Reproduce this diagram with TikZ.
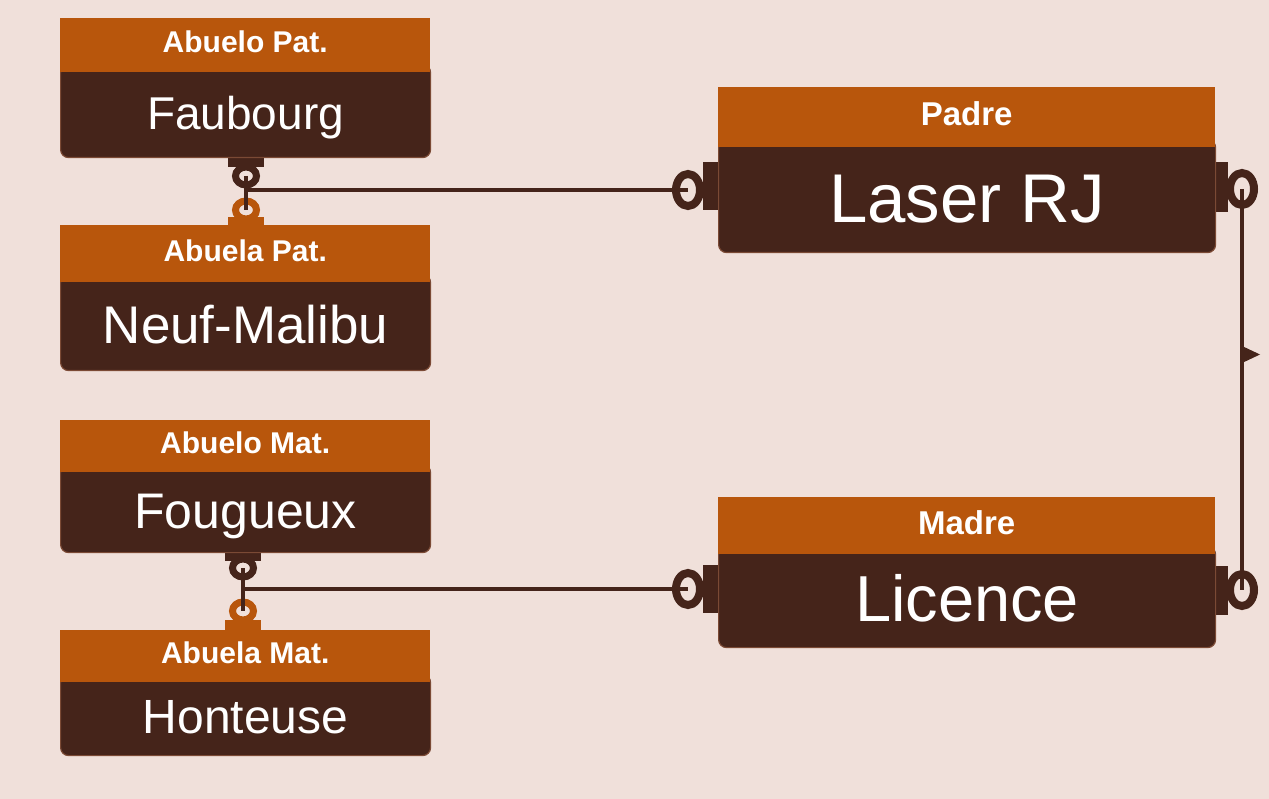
\documentclass[tikz,border=0pt]{standalone}
\usepackage{fontspec}
\setmainfont{Liberation Sans}
\definecolor{bg}{HTML}{F0E0DA}
\definecolor{hdr}{HTML}{B8560C}
\definecolor{bdy}{HTML}{45241A}
\definecolor{edge}{HTML}{7B4A35}
\tikzset{
 hdrbox/.style={fill=hdr, inner sep=0pt, anchor=north west, text=white, font=\bfseries\fontsize{30}{32}\selectfont, text height=21.5pt, text depth=6pt},
 bighdr/.style={hdrbox, font=\bfseries\fontsize{33}{36}\selectfont, text height=23.6pt, text depth=7pt},
 bdybox/.style={fill=bdy, draw=edge, line width=1.2pt, rounded corners=8pt, inner sep=0pt, anchor=north west, text=white, text depth=0pt},
 tabbox/.style={fill=bdy},
 otabbox/.style={fill=hdr},
 ring/.style={draw=bdy, line width=7pt},
 oring/.style={draw=hdr, line width=7pt},
 bigring/.style={draw=bdy, line width=8pt},
 link/.style={draw=bdy, line width=3.8pt},
}
\begin{document}
\begin{tikzpicture}[x=1pt,y=-1pt]
\useasboundingbox (0,0) rectangle (1269,799);
\fill[bg] (0,0) rectangle (1269,799);

% ring centres
\coordinate (apRing) at (246,176);
\coordinate (abRing) at (246,210);
\coordinate (pJ) at (246,190);
\coordinate (plRing) at (688,190);
\coordinate (prRing) at (1242,189);
\coordinate (mlRing) at (688,589);
\coordinate (mrRing) at (1242,590);
\coordinate (amRing) at (243,568);
\coordinate (aaRing) at (243,611);
\coordinate (mJ) at (243,589);

% tabs
\fill[tabbox] (228,150) rectangle (264,167);
\fill[otabbox] (228,217) rectangle (264,230);
\fill[tabbox] (225,545) rectangle (261,561);
\fill[otabbox] (225,620) rectangle (261,634);
\fill[tabbox] (703,162) rectangle (722,210);
\fill[tabbox] (1211,162) rectangle (1228,212);
\fill[tabbox] (703,565) rectangle (722,613);
\fill[tabbox] (1211,566) rectangle (1228,615);

% entities
\node[bdybox, minimum width=370pt, minimum height=93pt, font=\fontsize{46}{50}\selectfont, text height=36pt] (apB) at (60,64) {Faubourg};
\node[hdrbox, minimum width=370pt, minimum height=54pt] (apH) at (60,18) {Abuelo Pat.};

\node[bdybox, minimum width=370pt, minimum height=96pt, font=\fontsize{53}{57}\selectfont, text height=41pt] (abB) at (60,274) {Neuf-Malibu};
\node[hdrbox, minimum width=370pt, minimum height=57pt] (abH) at (60,225) {Abuela Pat.};

\node[bdybox, minimum width=370pt, minimum height=88pt, font=\fontsize{50}{54}\selectfont, text height=39pt] (amB) at (60,464) {Fougueux};
\node[hdrbox, minimum width=370pt, minimum height=52pt] (amH) at (60,420) {Abuelo Mat.};

\node[bdybox, minimum width=370pt, minimum height=81pt, font=\fontsize{48}{52}\selectfont, text height=37pt] (aaB) at (60,674) {Honteuse};
\node[hdrbox, minimum width=370pt, minimum height=52pt] (aaH) at (60,630) {Abuela Mat.};

\node[bdybox, minimum width=497pt, minimum height=113pt, font=\fontsize{69}{74}\selectfont, text height=52pt] (pB) at (718,139) {Laser RJ};
\node[bighdr, minimum width=497pt, minimum height=60pt] (pH) at (718,87) {Padre};

\node[bdybox, minimum width=497pt, minimum height=101pt, font=\fontsize{65}{70}\selectfont, text height=49pt] (mB) at (718,546) {Licence};
\node[bighdr, minimum width=497pt, minimum height=57pt] (mH) at (718,497) {Madre};

% rings
\draw[ring] (apRing) ellipse [x radius=10.5pt, y radius=9pt];
\draw[oring] (abRing) ellipse [x radius=10.5pt, y radius=9pt];
\draw[ring] (amRing) ellipse [x radius=10.5pt, y radius=9pt];
\draw[oring] (aaRing) ellipse [x radius=10.5pt, y radius=9pt];
\draw[bigring] (plRing) ellipse [x radius=12pt, y radius=16pt];
\draw[bigring] (prRing) ellipse [x radius=12pt, y radius=16pt];
\draw[bigring] (mlRing) ellipse [x radius=12pt, y radius=16pt];
\draw[bigring] (mrRing) ellipse [x radius=12pt, y radius=16pt];

% connectors
\draw[link] (apRing) -- (abRing);
\draw[link] (pJ) -- (plRing);
\draw[link] (amRing) -- (aaRing);
\draw[link] (mJ) -- (mlRing);
\draw[link, line width=4pt] (prRing) -- (mrRing);
\fill[bdy] (1242,346) -- (1260,354.5) -- (1242,363) -- cycle;
\end{tikzpicture}
\end{document}
